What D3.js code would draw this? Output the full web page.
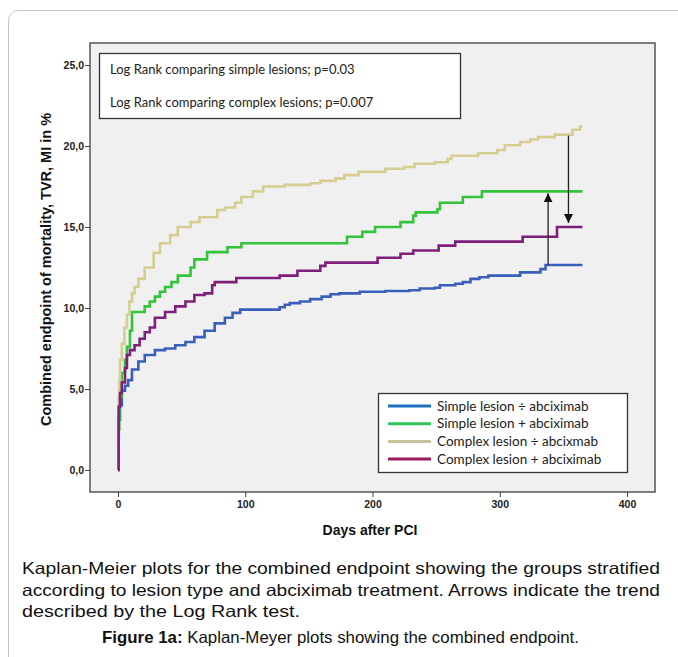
<!DOCTYPE html>
<html>
<head>
<meta charset="utf-8">
<script src="https://cdn.jsdelivr.net/npm/d3@7"></script>
<style>
  body { margin: 0; background: #fff; }
  svg { display: block; }
</style>
</head>
<body>
<svg id="chart" width="678" height="657"></svg>
<script>
// Kaplan-Meier step data, [day, percent]
const simpleNoAbx = [[0,0],[0.3,1.8],[0.6,3.1],[1.6,4.0],[3,4.9],[5.5,5.2],[8,5.55],[11,6.2],[16,6.7],[21,7.1],[29,7.4],[37,7.5],[45,7.7],[53,7.9],[60,8.2],[68,8.6],[76,9.05],[84,9.4],[90,9.7],[96,9.9],[127,10.05],[131,10.2],[135,10.3],[143,10.4],[151,10.55],[160,10.7],[167,10.85],[174,10.9],[190,11.0],[210,11.05],[229,11.1],[237,11.2],[249,11.25],[253,11.4],[265,11.5],[271,11.6],[277,11.8],[284,11.9],[291,12.0],[316,12.2],[332,12.4],[336,12.65],[365,12.65]];
const simpleAbx = [[0,0],[0.4,2.5],[1,4.5],[3,6.0],[5.5,6.8],[7,7.6],[9.4,8.6],[11,9.75],[21,10.1],[25,10.4],[29,10.7],[33,11.0],[37,11.3],[42,11.6],[47,12.0],[57,12.5],[60,13.0],[70,13.45],[86,13.75],[97,14.0],[180,14.4],[192,14.7],[202,15.0],[222,15.3],[232,15.7],[234,15.9],[251,16.1],[253,16.5],[271,16.85],[286,17.2],[365,17.2]];
const complexNoAbx = [[0,0],[0.3,2.5],[0.6,4.5],[1,5.5],[1.6,6.8],[3,7.8],[5,8.8],[7,9.6],[9,10.4],[11,10.9],[13,11.3],[16,11.8],[21,12.5],[28,13.4],[33,14.0],[41,14.5],[47,15.0],[57,15.3],[64,15.6],[78,16.05],[84,16.2],[92,16.5],[97,16.85],[106,17.2],[114,17.5],[131,17.6],[151,17.7],[159,17.85],[171,18.0],[178,18.2],[189,18.4],[210,18.6],[225,18.7],[233,18.9],[249,19.0],[259,19.2],[262,19.4],[283,19.55],[298,19.75],[304,20.05],[316,20.25],[324,20.4],[330,20.55],[343,20.7],[357,21.0],[363,21.2],[365,21.2]];
const complexAbx = [[0,0],[0.5,3.9],[1.6,4.75],[3,5.4],[5.5,6.3],[7,7.1],[9.4,7.4],[13,7.7],[17,8.1],[21,8.5],[25,8.8],[29,9.4],[37,9.75],[45,10.1],[53,10.4],[60,10.8],[68,10.9],[74,11.4],[76,11.6],[93,11.85],[127,12.0],[141,12.3],[159,12.6],[163,12.8],[204,13.1],[222,13.35],[232,13.55],[252,13.85],[265,14.1],[318,14.4],[345,15.0],[365,15.0]];

const seriesNames = ["Simple lesion \u00F7 abciximab", "Simple lesion + abciximab", "Complex lesion \u00F7 abcixmab", "Complex lesion + abciximab"];
const seriesData = [simpleNoAbx, simpleAbx, complexNoAbx, complexAbx];
const lineColors = ["#3a5fba", "#33c43a", "#d5ce90", "#7e1f7c"];
const legendColors = ["#1d6fc4", "#2ec45a", "#c9c39c", "#9c1a5e"];

const xTicks = [0, 100, 200, 300, 400];
const yTicks = [0, 5, 10, 15, 20, 25];
const logRankLines = ["Log Rank comparing simple lesions; p=0.03", "Log Rank comparing complex lesions; p=0.007"];
// arrows: [day, from value, to value]
const arrows = [[338, 12.65, 17.2], [354, 20.7, 15.0]];

const captionLines = [
  "Kaplan-Meier plots for the combined endpoint showing the groups stratified",
  "according to lesion type and abciximab treatment. Arrows indicate the trend",
  "described by the Log Rank test."
];
const captionWidths = [638, 638, 278];

const svg = d3.select("#chart");
const plot = {left: 90, right: 655, top: 43, bottom: 492};

const x = d3.scaleLinear().domain([0, 400]).range([118, 627]);
const y = d3.scaleLinear().domain([0, 25]).range([470, 65]);

// outer frame
svg.append("rect")
  .attr("x", 8.5).attr("y", 10.5)
  .attr("width", 720).attr("height", 720)
  .attr("rx", 10)
  .attr("fill", "none")
  .attr("stroke", "#c4c4c4")
  .attr("stroke-width", 1);

// plot background
svg.append("rect")
  .attr("x", plot.left).attr("y", plot.top)
  .attr("width", plot.right - plot.left).attr("height", plot.bottom - plot.top)
  .attr("fill", "#f0f0f0")
  .attr("stroke", "#555")
  .attr("stroke-width", 1.5);

// axes
const yAxis = svg.append("g")
  .attr("transform", `translate(${plot.left},0)`)
  .call(d3.axisLeft(y).tickValues(yTicks).tickSize(5).tickFormat(d => d3.format(".1f")(d).replace(".", ",")))
  .call(g => g.select(".domain").remove());
yAxis.selectAll("text")
  .attr("font-family", "Liberation Sans, Arial, sans-serif")
  .attr("font-weight", "bold")
  .attr("font-size", 10.5)
  .attr("fill", "#222")
  .attr("x", -6);
yAxis.selectAll("line").attr("stroke", "#444");

const xAxis = svg.append("g")
  .attr("transform", `translate(0,${plot.bottom})`)
  .call(d3.axisBottom(x).tickValues(xTicks).tickSize(5))
  .call(g => g.select(".domain").remove());
xAxis.selectAll("text")
  .attr("font-family", "Liberation Sans, Arial, sans-serif")
  .attr("font-weight", "bold")
  .attr("font-size", 10.5)
  .attr("fill", "#222")
  .attr("y", 9);
xAxis.selectAll("line").attr("stroke", "#444");

svg.append("text")
  .attr("transform", `translate(51,${(plot.top + plot.bottom) / 2 + 2}) rotate(-90)`)
  .attr("text-anchor", "middle")
  .attr("font-family", "Liberation Sans, Arial, sans-serif")
  .attr("font-weight", "bold")
  .attr("font-size", 14.5)
  .attr("fill", "#111")
  .text("Combined endpoint of mortality, TVR, MI in %");

svg.append("text")
  .attr("x", 370).attr("y", 535)
  .attr("text-anchor", "middle")
  .attr("font-family", "Liberation Sans, Arial, sans-serif")
  .attr("font-weight", "bold")
  .attr("font-size", 14)
  .attr("fill", "#111")
  .text("Days after PCI");

// curves
const line = d3.line()
  .x(d => x(d[0]))
  .y(d => y(d[1]))
  .curve(d3.curveStepAfter);

svg.append("g")
  .selectAll("path")
  .data(seriesData)
  .join("path")
  .attr("d", line)
  .attr("fill", "none")
  .attr("stroke", (d, i) => lineColors[i])
  .attr("stroke-width", 2.6);

// arrows
svg.append("defs").append("marker")
  .attr("id", "head")
  .attr("viewBox", "0 0 10 10")
  .attr("refX", 10).attr("refY", 5)
  .attr("markerWidth", 9).attr("markerHeight", 9)
  .attr("markerUnits", "userSpaceOnUse")
  .attr("orient", "auto")
  .append("path")
  .attr("d", "M0,0L10,5L0,10Z")
  .attr("fill", "#111");

svg.append("g")
  .selectAll("line")
  .data(arrows)
  .join("line")
  .attr("x1", d => x(d[0])).attr("x2", d => x(d[0]))
  .attr("y1", d => y(d[1]) + (d[2] > d[1] ? 0 : 1))
  .attr("y2", d => y(d[2]) + (d[2] > d[1] ? 2 : -4))
  .attr("stroke", "#222")
  .attr("stroke-width", 1.3)
  .attr("marker-end", "url(#head)");

// log rank box
svg.append("rect")
  .attr("x", 99.5).attr("y", 53.5)
  .attr("width", 361).attr("height", 65)
  .attr("fill", "#fff")
  .attr("stroke", "#333")
  .attr("stroke-width", 1.3);
svg.append("g")
  .selectAll("text")
  .data(logRankLines)
  .join("text")
  .attr("x", 110)
  .attr("y", (d, i) => 74 + i * 33)
  .attr("font-family", "Lato, sans-serif")
  .attr("font-size", 13)
  .attr("fill", "#222")
  .text(d => d);

// legend
svg.append("rect")
  .attr("x", 378.5).attr("y", 393.5)
  .attr("width", 249).attr("height", 79)
  .attr("fill", "#fff")
  .attr("stroke", "#333")
  .attr("stroke-width", 1.3);
const legend = svg.append("g")
  .selectAll("g")
  .data(seriesNames)
  .join("g")
  .attr("transform", (d, i) => `translate(0,${406 + i * 17.7})`);
legend.append("line")
  .attr("x1", 388).attr("x2", 431)
  .attr("stroke", (d, i) => legendColors[i])
  .attr("stroke-width", 3);
legend.append("text")
  .attr("x", 437).attr("y", 4.5)
  .attr("font-family", "Lato, sans-serif")
  .attr("font-size", 13.5)
  .attr("fill", "#222")
  .text(d => d);

// caption
svg.append("g")
  .selectAll("text")
  .data(captionLines)
  .join("text")
  .attr("x", 22)
  .attr("y", (d, i) => 574 + i * 21.5)
  .attr("font-family", "Liberation Sans, Arial, sans-serif")
  .attr("font-size", 16.5)
  .attr("fill", "#111")
  .attr("textLength", (d, i) => captionWidths[i])
  .attr("lengthAdjust", "spacingAndGlyphs")
  .text(d => d);

const fig = svg.append("text")
  .attr("x", 102).attr("y", 643)
  .attr("font-family", "Liberation Sans, Arial, sans-serif")
  .attr("font-size", 16.5)
  .attr("fill", "#111")
  .attr("textLength", 477)
  .attr("lengthAdjust", "spacingAndGlyphs");
fig.append("tspan").attr("font-weight", "bold").text("Figure 1a:");
fig.append("tspan").text(" Kaplan-Meyer plots showing the combined endpoint.");
</script>
</body>
</html>
